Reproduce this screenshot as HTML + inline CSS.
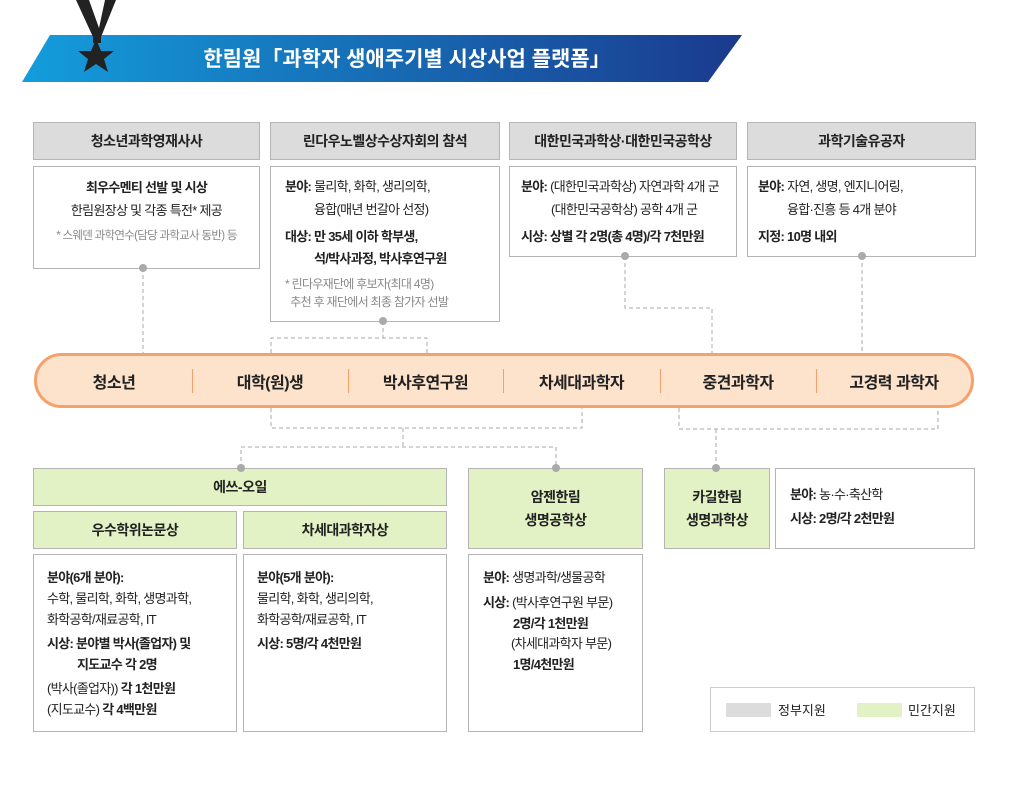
<!DOCTYPE html>
<html><head><meta charset="utf-8"><style>
*{margin:0;padding:0;box-sizing:border-box}
body{width:1014px;height:792px;background:#fff;position:relative;overflow:hidden;font-family:"Liberation Sans","Noto Sans CJK KR",sans-serif;color:#222}
.a{position:absolute}
.h{position:absolute;background:#dcdcdc;border:1px solid #b4b4b4;display:flex;align-items:center;justify-content:center;font-weight:bold;font-size:14px;letter-spacing:-0.5px;text-align:center;line-height:1.6}
.g{background:#e2f2c5}
.c{position:absolute;background:#fff;border:1px solid #b4b4b4;font-size:13px;letter-spacing:-0.7px;line-height:1.75}
.lb{line-height:1.6}
b{font-weight:bold}
.s{color:#888;font-size:12px}
.pl{position:absolute;top:353px;height:55px;display:flex;align-items:center;justify-content:center;font-size:16px;font-weight:bold;letter-spacing:-0.5px}
.sep{position:absolute;top:369px;width:1px;height:24px;background:#f4a06b}
.dot{position:absolute;width:8px;height:8px;border-radius:50%;background:#aaa;margin:-4px 0 0 -4px}
</style></head><body>
<svg class="a" style="left:0;top:0" width="1014" height="792">
<defs><linearGradient id="bg" x1="0" x2="1"><stop offset="0" stop-color="#139ddb"/><stop offset="1" stop-color="#1b3a8e"/></linearGradient></defs>
<polygon points="50,35 742,35 708,82 22,82" fill="url(#bg)"/>
<polygon points="76,0 89,0 99,28 105,0 116,0 101,37 93,37" fill="#222"/>
<rect x="93" y="33" width="8" height="10" fill="#222"/>
<polygon points="96,39 101,51 114,51 104,59 108,72 96,64 84,72 88,59 78,51 91,51" fill="#222"/>
<text x="407" y="66" fill="#fff" font-size="21" font-weight="bold" text-anchor="middle" font-family="Liberation Sans, Noto Sans CJK KR, sans-serif">한림원「과학자 생애주기별 시상사업 플랫폼」</text>
<g stroke="#aaa" stroke-dasharray="4,3" fill="none" stroke-width="1">
<path d="M143 268V353"/>
<path d="M383 321V338M271 353V338H427V353"/>
<path d="M625 256V308H712V353"/>
<path d="M862 256V353"/>
<path d="M271 408V428H582V408M403 428V447M241 468V447H556V468"/>
<path d="M679 408V429H938V408M716 429V468"/>
</g>
<rect x="35.5" y="354.5" width="937" height="52" rx="26" fill="#fde3cc" stroke="#f6a06a" stroke-width="3"/>
</svg>
<div class="h" style="left:33px;top:122px;width:227px;height:38px">청소년과학영재사사</div>
<div class="h" style="left:270px;top:122px;width:230px;height:38px">린다우노벨상수상자회의 참석</div>
<div class="h" style="left:509px;top:122px;width:228px;height:38px">대한민국과학상·대한민국공학상</div>
<div class="h" style="left:747px;top:122px;width:229px;height:38px">과학기술유공자</div>
<div class="c" style="left:33px;top:166px;width:227px;height:103px;text-align:center;padding-top:9px;line-height:1.8"><b>최우수멘티 선발 및 시상</b><br>한림원장상 및 각종 특전* 제공<br><span class="s" style="font-size:11.5px">* 스웨덴 과학연수(담당 과학교사 동반) 등</span></div>
<div class="c" style="left:270px;top:166px;width:230px;height:156px;padding:9px 0 0 14px"><b>분야:</b> 물리학, 화학, 생리의학,<br><span style="padding-left:29px">융합(매년 번갈아 선정)</span><div style="margin-top:4px"><b>대상: 만 35세 이하 학부생,<br><span style="padding-left:29px">석/박사과정, 박사후연구원</span></b></div><div class="s" style="margin-top:4px;line-height:1.5">* 린다우재단에 후보자(최대 4명)<br>&nbsp;&nbsp;추천 후 재단에서 최종 참가자 선발</div></div>
<div class="c" style="left:509px;top:166px;width:228px;height:91px;padding:9px 0 0 11px"><b>분야:</b> (대한민국과학상) 자연과학 4개 군<br><span style="padding-left:30px">(대한민국공학상) 공학 4개 군</span><div style="margin-top:4px"><b>시상: 상별 각 2명(총 4명)/각 7천만원</b></div></div>
<div class="c" style="left:747px;top:166px;width:229px;height:91px;padding:9px 0 0 10px"><b>분야:</b> 자연, 생명, 엔지니어링,<br><span style="padding-left:29px">융합·진흥 등 4개 분야</span><div style="margin-top:4px"><b>지정: 10명 내외</b></div></div>
<div class="dot" style="left:143px;top:268px"></div>
<div class="dot" style="left:383px;top:321px"></div>
<div class="dot" style="left:625px;top:256px"></div>
<div class="dot" style="left:862px;top:256px"></div>
<div class="pl" style="left:36px;width:156px">청소년</div>
<div class="pl" style="left:192px;width:156px">대학(원)생</div>
<div class="pl" style="left:348px;width:155px">박사후연구원</div>
<div class="pl" style="left:503px;width:157px">차세대과학자</div>
<div class="pl" style="left:660px;width:156px">중견과학자</div>
<div class="pl" style="left:816px;width:156px">고경력 과학자</div>
<div class="sep" style="left:192px"></div><div class="sep" style="left:348px"></div><div class="sep" style="left:503px"></div><div class="sep" style="left:660px"></div><div class="sep" style="left:816px"></div>
<div class="h g" style="left:33px;top:468px;width:414px;height:38px">에쓰-오일</div>
<div class="h g" style="left:33px;top:511px;width:204px;height:38px">우수학위논문상</div>
<div class="h g" style="left:243px;top:511px;width:204px;height:38px">차세대과학자상</div>
<div class="h g" style="left:468px;top:468px;width:175px;height:81px">암젠한림<br>생명공학상</div>
<div class="h g" style="left:664px;top:468px;width:106px;height:81px">카길한림<br>생명과학상</div>
<div class="dot" style="left:241px;top:468px"></div>
<div class="dot" style="left:556px;top:468px"></div>
<div class="dot" style="left:716px;top:468px"></div>
<div class="c lb" style="left:33px;top:554px;width:204px;height:178px;padding:13px 0 0 13px"><b>분야(6개 분야):</b><br>수학, 물리학, 화학, 생명과학,<br>화학공학/재료공학, IT<div style="margin-top:4px"><b>시상: 분야별 박사(졸업자) 및<br><span style="padding-left:30px">지도교수 각 2명</span></b></div><div style="margin-top:3px">(박사(졸업자)) <b>각 1천만원</b><br>(지도교수) <b>각 4백만원</b></div></div>
<div class="c lb" style="left:243px;top:554px;width:204px;height:178px;padding:13px 0 0 13px"><b>분야(5개 분야):</b><br>물리학, 화학, 생리의학,<br>화학공학/재료공학, IT<div style="margin-top:4px"><b>시상: 5명/각 4천만원</b></div></div>
<div class="c lb" style="left:468px;top:554px;width:175px;height:178px;padding:13px 0 0 14px"><b>분야:</b> 생명과학/생물공학<div style="margin-top:4px"><b>시상:</b> (박사후연구원 부문)<br><b style="padding-left:30px">2명/각 1천만원</b><br><span style="padding-left:28px">(차세대과학자 부문)</span><br><b style="padding-left:30px">1명/4천만원</b></div></div>
<div class="c" style="left:775px;top:468px;width:200px;height:81px;padding:14px 0 0 14px;line-height:1.85"><b>분야:</b> 농·수·축산학<br><b>시상: 2명/각 2천만원</b></div>
<div class="c" style="left:710px;top:687px;width:265px;height:45px;border-color:#ccc"></div>
<div class="a" style="left:726px;top:703px;width:45px;height:14px;background:#dcdcdc"></div>
<div class="a" style="left:778px;top:700px;font-size:13px">정부지원</div>
<div class="a" style="left:857px;top:703px;width:45px;height:14px;background:#e2f2c5"></div>
<div class="a" style="left:908px;top:700px;font-size:13px">민간지원</div>
</body></html>
